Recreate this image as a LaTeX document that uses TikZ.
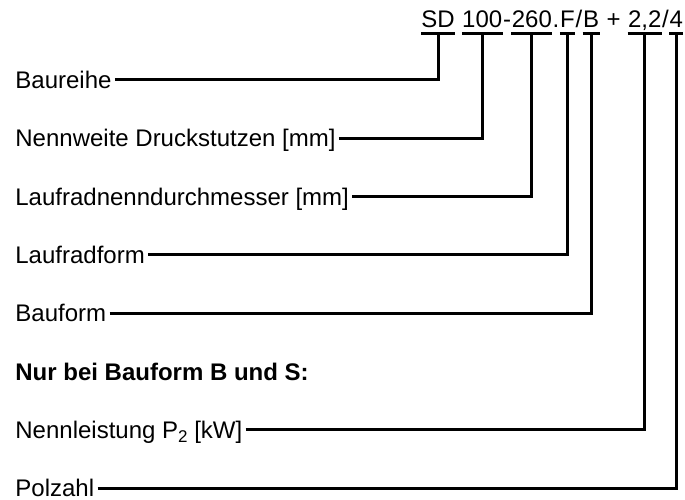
\documentclass[tikz,border=0pt]{standalone}
\usepackage{fontspec}
\setmainfont{Liberation Sans}
\usetikzlibrary{positioning}

\tikzset{
  teil/.style={inner sep=0pt, text height=8.6pt, text depth=3pt},
  bez/.style={anchor=base west, inner xsep=1.5pt, inner ysep=0pt, text height=8.6pt, text depth=0pt},
  linie/.style={line width=1.5pt},
}

\begin{document}
\begin{tikzpicture}[x=0.5pt, y=-0.5pt, font=\fontsize{12}{14}\selectfont]
\useasboundingbox (0,0) rectangle (685,499);

		%Typenschluessel
		\node[teil, anchor=west] (sd) at (421,21.4) {SD};
		\node[teil, right=3.34pt of sd] (dn) {100};
		\node[teil, right=0pt of dn] (strich) {-};
		\node[teil, right=0pt of strich] (lr) {260};
		\node[teil, right=0pt of lr] (punkt) {.};
		\node[teil, right=0pt of punkt] (lf) {F};
		\node[teil, right=0pt of lf] (sl1) {/};
		\node[teil, right=0pt of sl1] (bf) {B};
		\node[teil, right=3.34pt of bf] (plus) {+};
		\node[teil, right=3.34pt of plus] (pl) {2,2};
		\node[teil, right=0pt of pl] (sl2) {/};
		\node[teil, right=0pt of sl2] (pz) {4};

		%Unterstriche
		\draw[linie] (sd.south west) -- (sd.south east);
		\draw[linie] (dn.south west) -- (dn.south east);
		\draw[linie] (lr.south west) -- (lr.south east);
		\draw[linie] (lf.south west) -- (lf.south east);
		\draw[linie] (bf.south west) -- (bf.south east);
		\draw[linie] (pl.south west) -- (pl.south east);
		\draw[linie] (pz.south west) -- (pz.south east);

		%Bezeichnungen
		\node[bez] (baureihe) at (12,88.5) {Baureihe};
		\node[bez] (nennweite) at (12,146.8) {Nennweite Druckstutzen [mm]\ };
		\node[bez] (laufrad) at (12,205.1) {Laufradnenndurchmesser [mm]};
		\node[bez] (form) at (12,263.4) {Laufradform};
		\node[bez] (bauform) at (12,321.7) {Bauform};
		\node[bez] (hinweis) at (12,380) {\textbf{Nur bei Bauform B und S:}};
		\node[bez] (leistung) at (12,438.3) {Nennleistung P\raisebox{-2.2pt}{\fontsize{8.5}{10}\selectfont 2} [kW]\ };
		\node[bez] (polzahl) at (12,496.6) {Polzahl\ };

		%Verbindungen
		\draw[linie] (baureihe.east) -| (sd.south);
		\draw[linie] (nennweite.east) -| (dn.south);
		\draw[linie] (laufrad.east) -| (lr.south);
		\draw[linie] (form.east) -| (lf.south);
		\draw[linie] (bauform.east) -| (bf.south);
		\draw[linie] (leistung.east) -| (pl.south);
		\draw[linie] (polzahl.east) -| (pz.south);

\end{tikzpicture}
\end{document}
